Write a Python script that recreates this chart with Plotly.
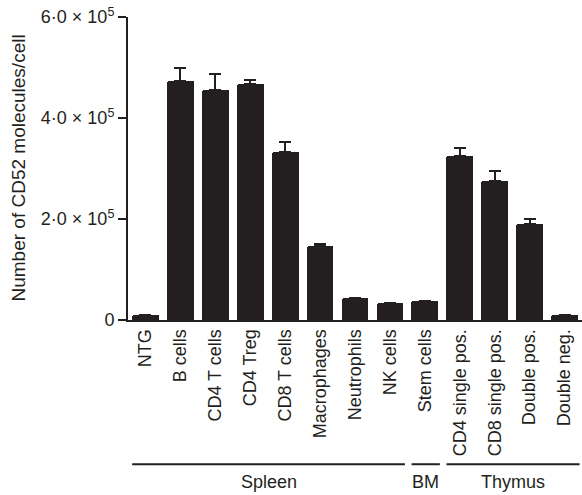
import plotly.graph_objects as go

# CD52 molecules per cell across tissues / cell types
categories = ["NTG", "B cells", "CD4 T cells", "CD4 Treg", "CD8 T cells",
              "Macrophages", "Neutrophils", "NK cells", "Stem cells",
              "CD4 single pos.", "CD8 single pos.", "Double pos.", "Double neg."]
means = [9000, 474000, 455000, 468000, 333000, 146000, 44000, 34000, 38000,
         324000, 275000, 190000, 9000]
sems = [0, 26000, 32000, 8000, 20000, 5000, 0, 0, 0, 17000, 20000, 11000, 0]

# tissue groups: (label, first index, last index)
groups = [("Spleen", 0, 7), ("BM", 8, 8), ("Thymus", 9, 12)]

ytick_vals = [0, 200000, 400000, 600000]
ytick_text = ["0", "2·0 × 10<sup>5</sup>", "4·0 × 10<sup>5</sup>", "6·0 × 10<sup>5</sup>"]

ink = "#231f20"
family = "Liberation Sans, Arial, Helvetica, sans-serif"
font = dict(family=family, size=18, color=ink)
title_font = dict(family=family, size=19, color=ink)

W, H = 582, 495
ml, mr, mt, mb = 128, 0, 17, 175

fig = go.Figure()
fig.add_trace(go.Bar(
    x=list(range(len(categories))),
    y=means,
    width=0.765,
    marker=dict(color=ink, line=dict(width=0), cornerradius=2),
    error_y=dict(type="data", symmetric=False, array=sems,
                 arrayminus=[0] * len(sems), color=ink, thickness=2, width=6),
))

fig.update_layout(
    width=W, height=H,
    margin=dict(l=ml, r=mr, t=mt, b=mb),
    plot_bgcolor="white", paper_bgcolor="white",
    font=font,
    showlegend=False,
    bargap=0,
)

fig.update_xaxes(
    range=[-0.5, len(categories) - 0.5],
    tickmode="array",
    tickvals=list(range(len(categories))),
    ticktext=categories,
    tickangle=-90,
    ticks="",
    showline=True, linecolor=ink, linewidth=2,
    showgrid=False, zeroline=False,
    tickfont=font,
)
fig.update_yaxes(
    range=[0, 600000],
    tickmode="array",
    tickvals=ytick_vals,
    ticktext=ytick_text,
    ticks="outside", ticklen=8, tickwidth=2, tickcolor=ink,
    showline=True, linecolor=ink, linewidth=2,
    showgrid=False, zeroline=False,
    tickfont=font,
)

# y-axis title
plot_w = W - ml - mr
fig.add_annotation(
    text="Number of CD52 molecules/cell",
    xref="paper", yref="paper",
    x=(18 - ml) / plot_w, y=0.5,
    textangle=-90, showarrow=False,
    xanchor="center", yanchor="middle",
    font=title_font,
)

# group brackets under the category labels
line_y = -0.476
label_y = -0.535
for name, i0, i1 in groups:
    x0 = i0 - 0.38
    x1 = i1 + 0.43
    fig.add_shape(type="line", xref="x", yref="paper",
                  x0=x0, x1=x1, y0=line_y, y1=line_y,
                  line=dict(color=ink, width=2))
    fig.add_annotation(text=name, xref="x", yref="paper",
                       x=(x0 + x1) / 2, y=label_y,
                       showarrow=False, xanchor="center", yanchor="middle",
                       font=font)

fig.write_html("out.html")
